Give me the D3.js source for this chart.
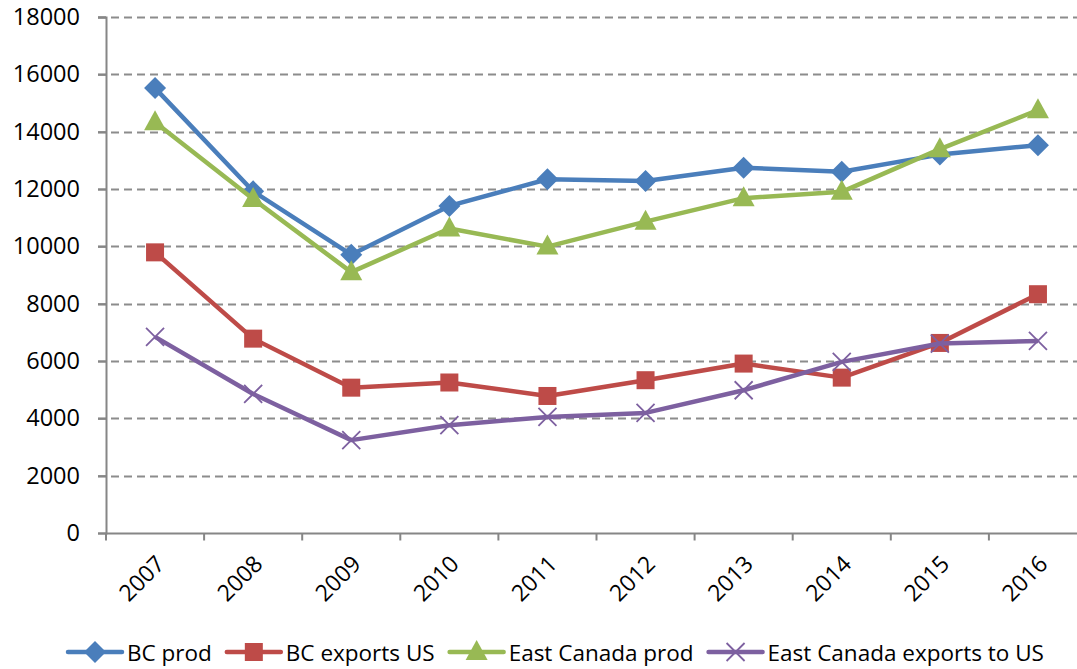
<!DOCTYPE html>
<html>
<head>
<meta charset="utf-8">
<script src="https://cdn.jsdelivr.net/npm/d3@7"></script>
<style>
  body { margin: 0; background: #fff; }
  text { font-family: "Open Sans", sans-serif; fill: #000; }
</style>
</head>
<body>
<script>
var width = 1077;
var height = 669;
var margin = {top: 17, left: 106, bottom: 136, right: -10};

// data
var years = ["2007", "2008", "2009", "2010", "2011", "2012", "2013", "2014", "2015", "2016"];
var bcProd = [15520, 11920, 9710, 11410, 12340, 12280, 12740, 12600, 13200, 13530];
var bcExports = [9790, 6780, 5070, 5250, 4780, 5330, 5910, 5420, 6630, 8330];
var eastProd = [14330, 11650, 9100, 10620, 9990, 10860, 11680, 11900, 13390, 14750];
var eastExports = [6840, 4850, 3240, 3760, 4050, 4190, 4980, 5970, 6610, 6700];
var yTicks = [0, 2000, 4000, 6000, 8000, 10000, 12000, 14000, 16000, 18000];

var series = [
  {name: "BC prod", values: bcProd, color: "#4A7EBB", marker: "diamond"},
  {name: "BC exports US", values: bcExports, color: "#BE4B48", marker: "square"},
  {name: "East Canada prod", values: eastProd, color: "#98B954", marker: "triangle"},
  {name: "East Canada exports to US", values: eastExports, color: "#7D60A0", marker: "x"}
];

var svg = d3.select("body")
  .append("svg")
  .attr("width", width)
  .attr("height", height);

var x = d3.scaleBand()
  .domain(years)
  .range([margin.left, width - margin.right]);

var y = d3.scaleLinear()
  .domain([0, 18000])
  .range([height - margin.bottom, margin.top]);

// gridlines
svg.append("g")
  .selectAll("line")
  .data(yTicks.slice(1))
  .enter()
  .append("line")
  .attr("x1", margin.left - 8)
  .attr("x2", width)
  .attr("y1", d => Math.round(y(d)) + 0.5)
  .attr("y2", d => Math.round(y(d)) + 0.5)
  .attr("stroke", "#8C8C8C")
  .attr("stroke-width", 2)
  .attr("stroke-dasharray", "8,5");

// y axis
var yAxis = svg.append("g")
  .attr("transform", "translate(" + margin.left + ",0)")
  .call(d3.axisLeft(y).tickValues(yTicks).tickSize(8).tickPadding(18).tickFormat(d3.format("d")));
yAxis.select(".domain").attr("stroke", "#868686").attr("stroke-width", 2);
yAxis.selectAll(".tick line").attr("stroke", "#868686").attr("stroke-width", 2);
yAxis.selectAll("text")
  .attr("font-size", 23.5)
  .attr("font-family", "Open Sans")
  .attr("fill", "#000");

// x axis
var baseY = Math.round(y(0)) + 0.5;
svg.append("line")
  .attr("x1", margin.left)
  .attr("x2", width)
  .attr("y1", baseY)
  .attr("y2", baseY)
  .attr("stroke", "#868686")
  .attr("stroke-width", 2);

svg.append("g")
  .selectAll("line")
  .data(years)
  .enter()
  .append("line")
  .attr("x1", d => x(d))
  .attr("x2", d => x(d))
  .attr("y1", baseY)
  .attr("y2", baseY + 7)
  .attr("stroke", "#868686")
  .attr("stroke-width", 2);

svg.append("g")
  .selectAll("text")
  .data(years)
  .enter()
  .append("text")
  .attr("font-size", 23)
  .attr("text-anchor", "end")
  .attr("transform", d => "translate(" + (x(d) + x.bandwidth() / 2 + 11) + "," + (baseY + 32) + ")rotate(-45)")
  .text(d => d);

var cx = d => x(d) + x.bandwidth() / 2;

function drawMarker(g, type, color) {
  if (type === "diamond") {
    g.append("path").attr("d", "M0,-11L11,0L0,11L-11,0Z").attr("fill", color);
  } else if (type === "square") {
    g.append("rect").attr("x", -9).attr("y", -9).attr("width", 18).attr("height", 18).attr("fill", color);
  } else if (type === "triangle") {
    g.append("path").attr("d", "M0,-12L11,8L-11,8Z").attr("fill", color);
  } else {
    g.append("path").attr("d", "M-9,-9L9,9M-9,9L9,-9")
      .attr("stroke", color).attr("stroke-width", 1.8).attr("fill", "none");
  }
}

var line = d3.line()
  .x((d, i) => cx(years[i]))
  .y(d => y(d));

series.forEach(function(s) {
  svg.append("path")
    .datum(s.values)
    .attr("d", line)
    .attr("fill", "none")
    .attr("stroke", s.color)
    .attr("stroke-width", 4.5)
    .attr("stroke-linejoin", "round");

  s.values.forEach(function(v, i) {
    var g = svg.append("g")
      .attr("transform", "translate(" + cx(years[i]) + "," + y(v) + ")");
    drawMarker(g, s.marker, s.color);
  });
});

// legend
var legend = svg.append("g").attr("transform", "translate(68,652)");
var lx = 0;
series.forEach(function(s) {
  var item = legend.append("g").attr("transform", "translate(" + lx + ",0)");
  item.append("line")
    .attr("x1", 0).attr("x2", 54)
    .attr("stroke", s.color)
    .attr("stroke-width", 4.5)
    .attr("stroke-linecap", "round");
  var m = item.append("g").attr("transform", "translate(27,0)");
  drawMarker(m, s.marker, s.color);
  var t = item.append("text")
    .attr("x", 59)
    .attr("y", 9)
    .attr("font-size", 22.5)
    .text(s.name);
  lx += 59 + t.node().getComputedTextLength() + 15;
});
</script>
</body>
</html>
